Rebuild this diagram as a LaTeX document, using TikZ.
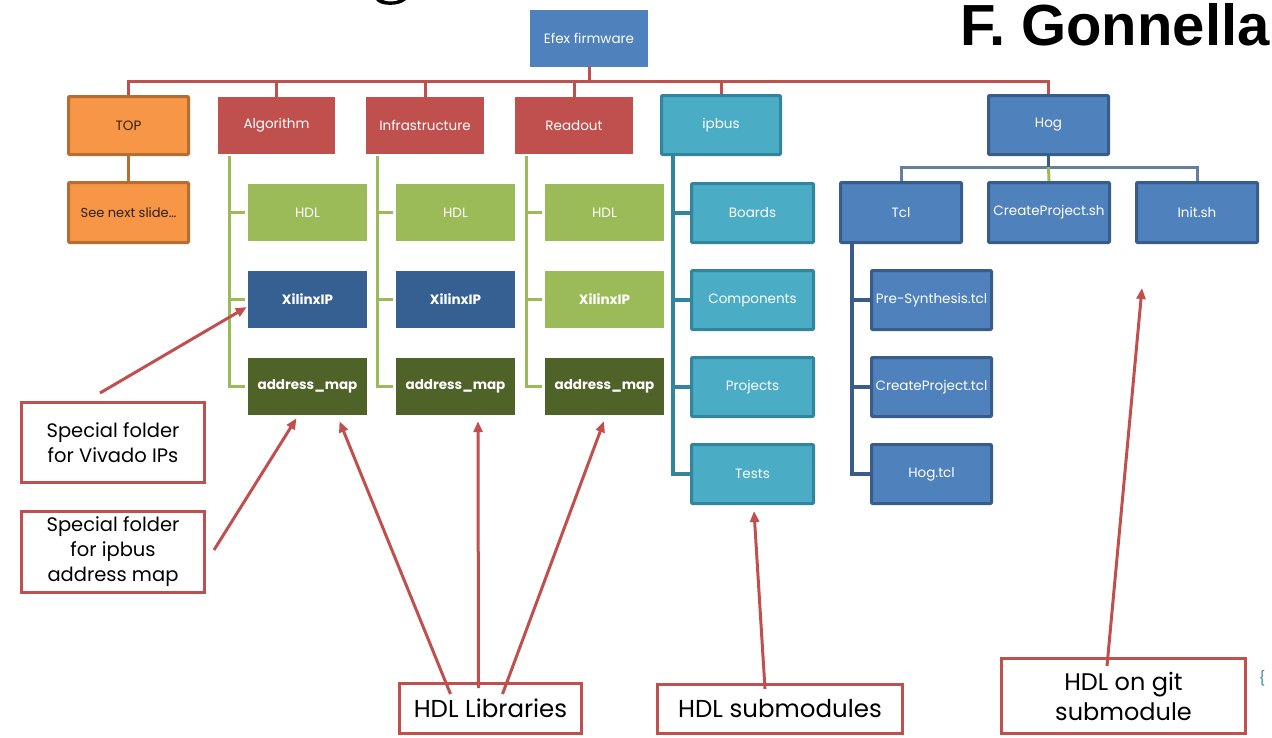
\documentclass[tikz,border=0pt]{standalone}
\usepackage{fontspec}
\setmainfont{Poppins}
\newfontfamily\titlefont{Liberation Sans}
\usetikzlibrary{arrows.meta,calc}

\definecolor{accred}{HTML}{C0504D}
\definecolor{orfill}{HTML}{F79646}
\definecolor{ordraw}{HTML}{B66D31}
\definecolor{tealfill}{HTML}{4BACC6}
\definecolor{tealdraw}{HTML}{31859C}
\definecolor{bluefill}{HTML}{4F81BD}
\definecolor{bluedraw}{HTML}{385D8A}
\definecolor{navyfill}{HTML}{366092}
\definecolor{grnfill}{HTML}{9BBB59}
\definecolor{olivefill}{HTML}{4F6228}
\definecolor{hogline}{HTML}{667F9C}
\definecolor{textdark}{HTML}{2B2118}

\tikzset{
  wh/.style 2 args={minimum width=#1pt, minimum height=#2pt},
  base/.style={inner sep=0pt, align=center, font=\fontsize{13.5}{16}\selectfont, text=white},
  redbox/.style={base, fill=accred},
  orbox/.style={base, fill=orfill, draw=ordraw, line width=3pt, text=textdark, rounded corners=1pt},
  tealbox/.style={base, fill=tealfill, draw=tealdraw, line width=3pt, rounded corners=1pt},
  bluebox/.style={base, fill=bluefill, draw=bluedraw, line width=3pt, rounded corners=1pt},
  hdlbox/.style={base, fill=grnfill},
  ipbox/.style={base, fill=navyfill, font=\fontsize{13.5}{16}\selectfont\bfseries},
  ipgbox/.style={base, fill=grnfill, font=\fontsize{13.5}{16}\selectfont\bfseries},
  mapbox/.style={base, fill=olivefill, font=\fontsize{13.5}{16}\selectfont\bfseries},
  note/.style={draw=accred, line width=3pt, fill=white, inner sep=0pt, align=center, text=black},
  redlink/.style={draw=accred, line width=3pt},
  grnlink/.style={draw=grnfill, line width=3pt},
  teallink/.style={draw=tealdraw, line width=4pt},
  tcllink/.style={draw=bluedraw, line width=4pt},
  pointer/.style={draw=accred, line width=3pt, -{Triangle[length=11pt,width=9pt]}},
}

\begin{document}
\begin{tikzpicture}[x=1pt,y=-1pt]
\useasboundingbox (0,0) rectangle (1272,737);

% slide title fragments
\node[anchor=base west, inner sep=0pt, font=\titlefont\bfseries\fontsize{58}{60}\selectfont] (author) at (960,45) {F. Gonnella};
\fill[black] (376,0) .. controls (380,6) and (398,7) .. (406,0) -- (399,0) .. controls (395,2) and (386,2) .. (383,0) -- cycle;

% root and first level
\node[base, fill=bluefill, wh={118}{57}] (efex) at (589,38.5) {Efex firmware};
\node[orbox, wh={120}{58}] (top) at (128.5,125.5) {TOP};
\node[redbox, wh={117}{57}] (alg) at (276.5,125.5) {Algorithm};
\node[redbox, wh={118}{57}] (infra) at (425,125.5) {Infrastructure};
\node[redbox, wh={118}{57}] (readout) at (574,125.5) {Readout};
\node[tealbox, wh={119}{59}] (ipbus) at (721,125) {ipbus};
\node[bluebox, wh={120}{59}] (hog) at (1048.5,125) {Hog};

\foreach \c in {top,alg,infra,readout,ipbus,hog}
  \draw[redlink] (efex.south) -- ++(0,14) -| (\c.north);

% TOP branch
\node[orbox, wh={120}{60}, font=\fontsize{13}{15}\selectfont] (next) at (128.5,212.5) {See next slide…};
\draw[draw=ordraw, line width=3pt] (top.south) -- (next.north);

% HDL library folders
\node[hdlbox, wh={119}{57}] (hdla) at (307.5,212.5) {HDL};
\node[ipbox,  wh={119}{57}] (xila) at (307.5,299.5) {XilinxIP};
\node[mapbox, wh={119}{57}] (mapa) at (307.5,386.5) {address\_map};
\node[hdlbox, wh={119}{57}] (hdlb) at (455.5,212.5) {HDL};
\node[ipbox,  wh={119}{57}] (xilb) at (455.5,299.5) {XilinxIP};
\node[mapbox, wh={119}{57}] (mapb) at (455.5,386.5) {address\_map};
\node[hdlbox, wh={119}{57}] (hdlc) at (604.5,212.5) {HDL};
\node[ipgbox, wh={119}{57}] (xilc) at (604.5,299.5) {XilinxIP};
\node[mapbox, wh={119}{57}] (mapc) at (604.5,386.5) {address\_map};

\foreach \p/\a/\b/\c in {alg/hdla/xila/mapa, infra/hdlb/xilb/mapb, readout/hdlc/xilc/mapc}{
  \coordinate (spine) at ($(\p.south)+(-47.5,2)$);
  \draw[grnlink] (spine) |- ($(\c.west)+(-3,0)$);
  \draw[grnlink] (spine |- \a.west) -- ($(\a.west)+(-3,0)$);
  \draw[grnlink] (spine |- \b.west) -- ($(\b.west)+(-3,0)$);
}

% ipbus submodules
\node[tealbox, wh={122}{59}] (boards) at (752.5,213) {Boards};
\node[tealbox, wh={122}{59}] (comps) at (752.5,300) {Components};
\node[tealbox, wh={122}{59}] (projs) at (752.5,387) {Projects};
\node[tealbox, wh={122}{59}] (tests) at (752.5,474) {Tests};
\coordinate (ipspine) at ($(ipbus.south)+(-48,0)$);
\draw[teallink] (ipspine) |- (tests.west);
\foreach \c in {boards,comps,projs}
  \draw[teallink] (ipspine |- \c.west) -- (\c.west);

% Hog contents
\node[bluebox, wh={121}{60}] (tcl) at (901,212.5) {Tcl};
\node[bluebox, wh={121}{60}] (cpsh) at (1049,212.5) {CreateProject.sh};
\node[bluebox, wh={121}{60}] (initsh) at (1197,212.5) {Init.sh};
\draw[draw=hogline, line width=3pt] (hog.south) -- ++(0,11) -| (tcl.north);
\draw[draw=hogline, line width=3pt] (hog.south) -- ++(0,11) -| (initsh.north);
\draw[draw=bluedraw, line width=3pt] (hog.south) -- ++(0,11) coordinate (hogbus);
\draw[grnlink] (hogbus) -- (cpsh.north);

\node[bluebox, wh={120}{59}] (presyn) at (931.5,300) {Pre-Synthesis.tcl};
\node[bluebox, wh={120}{59}] (cptcl) at (931.5,387) {CreateProject.tcl};
\node[bluebox, wh={120}{59}] (hogtcl) at (931.5,474) {Hog.tcl};
\coordinate (tclspine) at ($(tcl.south)+(-49,0)$);
\draw[tcllink] (tclspine) |- (hogtcl.west);
\foreach \c in {presyn,cptcl}
  \draw[tcllink] (tclspine |- \c.west) -- (\c.west);

% annotations
\node[note, wh={183}{80}, font=\fontsize{19.5}{25}\selectfont] (vivado) at (113,442.5) {Special folder\\for Vivado IPs};
\node[note, wh={183}{81}, font=\fontsize{19.5}{25}\selectfont] (ipmap) at (113,552) {Special folder\\for ipbus\\address map};
\node[note, wh={182}{50}, font=\fontsize{24.5}{28}\selectfont] (libs) at (490.5,708.5) {HDL Libraries};
\node[note, wh={245}{49}, font=\fontsize{24.5}{28}\selectfont] (subm) at (780,709) {HDL submodules};
\node[note, wh={244}{75}, font=\fontsize{24}{30}\selectfont] (gitsub) at (1123.5,696) {HDL on git\\submodule};

\draw[pointer] ($(vivado.north)+(-13,-8)$) -- ($(xila.west)+(-1,7.5)$);
\draw[pointer] ($(ipmap.east)+(8,-2)$) -- ($(mapa.south)+(-11,3)$);
\draw[pointer] ($(libs.north)+(-40,12)$) -- ($(mapa.south)+(32,6)$);
\draw[pointer] ($(libs.north)+(-12,6)$) -- ($(mapb.south)+(22.5,6)$);
\draw[pointer] ($(libs.north)+(12,12)$) -- ($(mapc.south)+(-0.5,6)$);
\draw[pointer] ($(subm.north)+(-15,6)$) -- ($(tests.south)+(1.5,6)$);
\draw[pointer] ($(gitsub.north)+(-16.5,9)$) -- ($(initsh.south)+(-55,44)$);

% edge of a neighbouring element
\node[inner sep=0pt, text=tealdraw, font=\fontsize{14}{14}\selectfont] (brace) at (1262,678) {\{};
\end{tikzpicture}
\end{document}
